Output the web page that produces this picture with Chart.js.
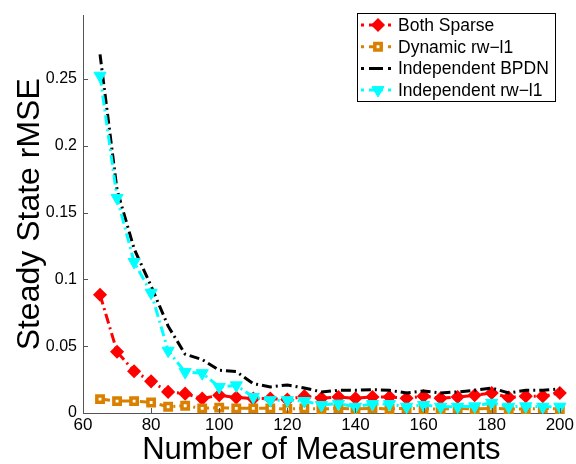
<!DOCTYPE html>
<html>
<head>
<meta charset="utf-8">
<script src="https://cdn.jsdelivr.net/npm/chart.js@4.4.1/dist/chart.umd.min.js"></script>
<style>
  html, body { margin: 0; padding: 0; background: #fff; }
  #wrap { width: 576px; height: 464px; }
</style>
</head>
<body>
<div id="wrap"><canvas id="rmse-chart" width="576" height="464"></canvas></div>
<script>
// measurement counts
var measurements = [65, 70, 75, 80, 85, 90, 95, 100, 105, 110, 115, 120, 125, 130,
                    135, 140, 145, 150, 155, 160, 165, 170, 175, 180, 185, 190, 195, 200];

var bothSparse = [0.0885, 0.0459, 0.0313, 0.0237, 0.0158, 0.0145, 0.0108, 0.0133, 0.0116, 0.0108,
                  0.0108, 0.0100, 0.0126, 0.0110, 0.0120, 0.0110, 0.0120, 0.0120, 0.0110, 0.0126,
                  0.0110, 0.0120, 0.0133, 0.0150, 0.0116, 0.0126, 0.0126, 0.0150];
var dynamicRwl1 = [0.0104, 0.0089, 0.0089, 0.0079, 0.0047, 0.0054, 0.0035, 0.0040, 0.0035, 0.0035,
                   0.0035, 0.0030, 0.0035, 0.0030, 0.0035, 0.0030, 0.0035, 0.0030, 0.0035, 0.0030,
                   0.0030, 0.0035, 0.0030, 0.0035, 0.0030, 0.0030, 0.0035, 0.0030];
var indepBPDN = [0.2685, 0.1670, 0.1230, 0.0950, 0.0650, 0.0440, 0.0400, 0.0320, 0.0310, 0.0220,
                 0.0195, 0.0210, 0.0187, 0.0158, 0.0170, 0.0170, 0.0175, 0.0170, 0.0150, 0.0165,
                 0.0150, 0.0158, 0.0170, 0.0187, 0.0150, 0.0170, 0.0170, 0.0180];
var indepRwl1 = [0.2525, 0.1610, 0.1130, 0.0900, 0.0466, 0.0306, 0.0298, 0.0195, 0.0207, 0.0120,
                 0.0096, 0.0096, 0.0090, 0.0060, 0.0070, 0.0047, 0.0067, 0.0067, 0.0047, 0.0060,
                 0.0047, 0.0047, 0.0050, 0.0076, 0.0047, 0.0050, 0.0047, 0.0047];

var seriesNames = ['Both Sparse', 'Dynamic rw\u2212l1', 'Independent BPDN', 'Independent rw\u2212l1'];

var xTicks = [60, 80, 100, 120, 140, 160, 180, 200];
var yTicks = [0, 0.05, 0.1, 0.15, 0.2, 0.25];
var yTickLabels = ['0', '0.05', '0.1', '0.15', '0.2', '0.25'];

var FONT = '"Liberation Sans", Arial, Helvetica, sans-serif';
var dashDot = [10, 4, 2, 4];

function pts(ys) {
  return measurements.map(function (m, i) { return { x: m, y: ys[i] }; });
}

var datasets = [
  {
    label: seriesNames[0], data: pts(bothSparse), order: 4,
    borderColor: '#ff0000', backgroundColor: '#ff0000', borderWidth: 3, borderDash: dashDot,
    pointStyle: 'rectRot', pointRadius: 6, pointBorderWidth: 1.5,
    pointBackgroundColor: '#ff0000', pointBorderColor: '#ff0000'
  },
  {
    label: seriesNames[1], data: pts(dynamicRwl1), order: 3,
    borderColor: '#d98000', backgroundColor: '#d98000', borderWidth: 3, borderDash: dashDot,
    pointStyle: 'rect', pointRadius: 4.5, pointBorderWidth: 3.5,
    pointBackgroundColor: '#ffffff', pointBorderColor: '#d98000'
  },
  {
    label: seriesNames[2], data: pts(indepBPDN), order: 2,
    borderColor: '#000000', backgroundColor: '#000000', borderWidth: 3, borderDash: dashDot,
    pointRadius: 0
  },
  {
    label: seriesNames[3], data: pts(indepRwl1), order: 1,
    borderColor: '#00ffff', backgroundColor: '#00ffff', borderWidth: 3, borderDash: dashDot,
    pointStyle: 'triangle', pointRotation: 180, pointRadius: 7, pointBorderWidth: 1,
    pointBackgroundColor: '#00ffff', pointBorderColor: '#00ffff'
  }
];

// matlab style ticks pointing into the plot
var inwardTicks = {
  id: 'inwardTicks',
  afterDraw: function (chart) {
    var ctx = chart.ctx, a = chart.chartArea;
    var xs = chart.scales.x, ys = chart.scales.y;
    ctx.save();
    ctx.strokeStyle = '#555';
    ctx.lineWidth = 1;
    ctx.beginPath();
    xTicks.forEach(function (t) {
      var px = Math.round(xs.getPixelForValue(t)) + 0.5;
      ctx.moveTo(px, a.bottom); ctx.lineTo(px, a.bottom - 5);
    });
    yTicks.forEach(function (t) {
      var py = Math.round(ys.getPixelForValue(t)) + 0.5;
      ctx.moveTo(a.left, py); ctx.lineTo(a.left + 5, py);
    });
    ctx.stroke();
    ctx.restore();
  }
};

// boxed legend in the upper right corner
var boxLegend = {
  id: 'boxLegend',
  afterDraw: function (chart) {
    var ctx = chart.ctx;
    var bx = 357, by = 13, bw = 198, bh = 88;
    ctx.save();
    ctx.fillStyle = '#fff';
    ctx.fillRect(bx, by, bw, bh);
    ctx.strokeStyle = '#000';
    ctx.lineWidth = 1;
    ctx.strokeRect(bx + 0.5, by + 0.5, bw, bh);
    ctx.font = '17.5px ' + FONT;
    ctx.textBaseline = 'middle';
    datasets.forEach(function (ds, i) {
      var y = by + 12 + i * 21.7;
      ctx.strokeStyle = ds.borderColor;
      ctx.lineWidth = 3;
      ctx.setLineDash([3, 5, 14, 5, 3]);
      ctx.beginPath();
      ctx.moveTo(361, y); ctx.lineTo(394, y);
      ctx.stroke();
      ctx.setLineDash([]);
      if (ds.pointRadius > 0) {
        ctx.fillStyle = ds.pointBackgroundColor;
        ctx.strokeStyle = ds.pointBorderColor;
        ctx.lineWidth = ds.pointBorderWidth;
        Chart.helpers.drawPoint(ctx, {
          pointStyle: ds.pointStyle, radius: ds.pointRadius,
          rotation: ds.pointRotation || 0, borderWidth: ds.pointBorderWidth
        }, 378, y);
      }
      ctx.fillStyle = '#000';
      ctx.fillText(ds.label, 398, y + 1);
    });
    ctx.restore();
  }
};

var config = {
  type: 'line',
  data: { datasets: datasets },
  options: {
    responsive: false,
    animation: false,
    layout: { padding: { left: 0, right: 15, top: 7, bottom: 0 } },
    elements: { line: { tension: 0 } },
    datasets: { line: { clip: false } },
    plugins: { legend: { display: false }, tooltip: { enabled: false } },
    scales: {
      x: {
        type: 'linear', min: 60, max: 200,
        grid: { display: false, tickLength: 0 },
        border: { display: true, color: '#555', width: 1 },
        afterBuildTicks: function (s) { s.ticks = xTicks.map(function (v) { return { value: v }; }); },
        afterFit: function (s) { s.height = 51; },
        ticks: { color: '#000', padding: 2, maxRotation: 0, font: { family: FONT, size: 17 } },
        title: { display: true, text: 'Number of Measurements', color: '#000', padding: { top: 0, bottom: -5 },
                 font: { family: FONT, size: 31 } }
      },
      y: {
        type: 'linear', min: 0, max: 0.2975,
        grid: { display: false, tickLength: 0 },
        border: { display: true, color: '#555', width: 1 },
        afterBuildTicks: function (s) { s.ticks = yTicks.map(function (v) { return { value: v }; }); },
        afterFit: function (s) { s.width = 83; },
        ticks: {
          color: '#000', padding: 6, font: { family: FONT, size: 16 },
          callback: function (v) { var i = yTicks.indexOf(v); return i >= 0 ? yTickLabels[i] : ''; }
        },
        title: { display: true, text: 'Steady State rMSE', color: '#000', padding: { top: 11, bottom: 0 },
                 font: { family: FONT, size: 32 } }
      }
    }
  },
  plugins: [inwardTicks, boxLegend]
};

var ctx = document.getElementById('rmse-chart').getContext('2d');
window.rmseChart = new Chart(ctx, config);
</script>
</body>
</html>
